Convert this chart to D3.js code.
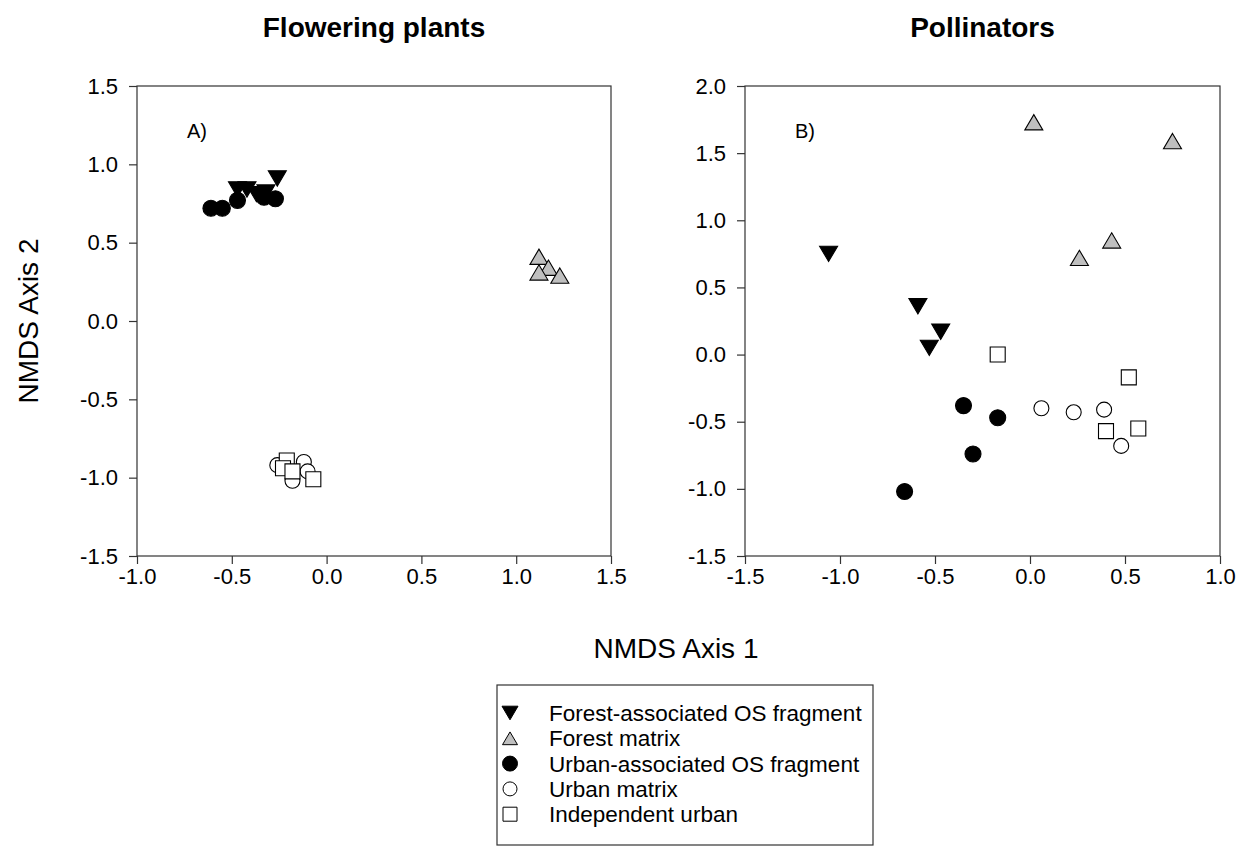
<!DOCTYPE html>
<html>
<head>
<meta charset="utf-8">
<script src="https://cdn.jsdelivr.net/npm/d3@7"></script>
<style>
  html, body { margin: 0; padding: 0; background: #fff; }
  svg { display: block; font-family: "Liberation Sans", Arial, sans-serif; }
</style>
</head>
<body>
<svg id="chart" width="1249" height="847"></svg>
<script>
// Site groups, in legend order
const groupNames = [
  "Forest-associated OS fragment",
  "Forest matrix",
  "Urban-associated OS fragment",
  "Urban matrix",
  "Independent urban"
];

// NMDS scores for flowering plants, [axis1, axis2]
const plantsForestFragment = [[-0.47, 0.84], [-0.42, 0.84], [-0.37, 0.81], [-0.32, 0.82], [-0.26, 0.91]];
const plantsForestMatrix   = [[1.12, 0.41], [1.17, 0.34], [1.12, 0.31], [1.23, 0.29]];
const plantsUrbanFragment  = [[-0.61, 0.72], [-0.55, 0.72], [-0.47, 0.77], [-0.33, 0.79], [-0.27, 0.78]];
const plantsUrbanMatrix    = [[-0.26, -0.92], [-0.12, -0.90], [-0.10, -0.96], [-0.18, -1.02]];
const plantsIndependent    = [[-0.21, -0.89], [-0.23, -0.94], [-0.18, -0.96], [-0.07, -1.01]];

// NMDS scores for pollinators, [axis1, axis2]
const pollForestFragment = [[-1.06, 0.75], [-0.59, 0.36], [-0.47, 0.17], [-0.53, 0.05]];
const pollForestMatrix   = [[0.02, 1.73], [0.75, 1.59], [0.43, 0.85], [0.26, 0.72]];
const pollUrbanFragment  = [[-0.66, -1.02], [-0.35, -0.38], [-0.17, -0.47], [-0.30, -0.74]];
const pollUrbanMatrix    = [[0.06, -0.40], [0.23, -0.43], [0.39, -0.41], [0.48, -0.68]];
const pollIndependent    = [[-0.17, 0.00], [0.52, -0.17], [0.40, -0.57], [0.57, -0.55]];

// Axis tick values
const plantsXTicks = [-1.0, -0.5, 0.0, 0.5, 1.0, 1.5];
const plantsYTicks = [-1.5, -1.0, -0.5, 0.0, 0.5, 1.0, 1.5];
const pollXTicks   = [-1.5, -1.0, -0.5, 0.0, 0.5, 1.0];
const pollYTicks   = [-1.5, -1.0, -0.5, 0.0, 0.5, 1.0, 1.5, 2.0];

const svg = d3.select("#chart");
const fmt = v => v.toFixed(1);

// Triangle whose bounding box is centred on the point; size = width
function triangle(up, ratio) {
  return {
    draw(ctx, size) {
      const w = size / 2, h = size * ratio / 2;
      if (up) {
        ctx.moveTo(0, -h); ctx.lineTo(w, h); ctx.lineTo(-w, h);
      } else {
        ctx.moveTo(-w, -h); ctx.lineTo(w, -h); ctx.lineTo(0, h);
      }
      ctx.closePath();
    }
  };
}
function circle() {
  return { draw(ctx, size) { const r = size / 2; ctx.moveTo(r, 0); ctx.arc(0, 0, r, 0, 2 * Math.PI); } };
}
function square() {
  return { draw(ctx, size) { const r = size / 2; ctx.rect(-r, -r, size, size); } };
}

// Marker style per group
const styles = [
  { type: triangle(false, 0.85), fill: "#000", stroke: "#000", size: 18 },
  { type: triangle(true, 0.85),  fill: "#bfbfbf", stroke: "#000", size: 18 },
  { type: circle(),              fill: "#000", stroke: "#000", size: 16 },
  { type: circle(),              fill: "#fff", stroke: "#000", size: 15 },
  { type: square(),              fill: "#fff", stroke: "#000", size: 15 }
];

function panel(opts) {
  const { left, right, top, bottom, xDomain, yDomain, xTicks, yTicks, series, tag, title } = opts;
  const x = d3.scaleLinear().domain(xDomain).range([left, right]);
  const y = d3.scaleLinear().domain(yDomain).range([bottom, top]);
  const g = svg.append("g");

  // frame
  g.append("rect")
    .attr("x", left).attr("y", top)
    .attr("width", right - left).attr("height", bottom - top)
    .attr("fill", "none").attr("stroke", "#333").attr("stroke-width", 1.2);

  const xAxis = g.append("g").attr("transform", `translate(0,${bottom})`)
    .call(d3.axisBottom(x).tickValues(xTicks).tickFormat(fmt).tickSize(8).tickPadding(4));
  const yAxis = g.append("g").attr("transform", `translate(${left},0)`)
    .call(d3.axisLeft(y).tickValues(yTicks).tickFormat(fmt).tickSize(8).tickPadding(11));
  [xAxis, yAxis].forEach(a => {
    a.select(".domain").remove();
    a.selectAll("line").attr("stroke", "#333").attr("stroke-width", 1.2);
    a.selectAll("text").attr("font-size", 22).attr("fill", "#000")
      .attr("font-family", "Liberation Sans, Arial, sans-serif");
  });

  g.append("text").attr("x", left + 50).attr("y", top + 52)
    .attr("font-size", 20).text(tag);

  g.append("text").attr("x", (left + right) / 2).attr("y", 37)
    .attr("text-anchor", "middle").attr("font-size", 28).attr("font-weight", "bold")
    .text(title);

  series.forEach((pts, i) => {
    const s = styles[i];
    g.append("g").selectAll("path").data(pts).join("path")
      .attr("transform", d => `translate(${x(d[0])},${y(d[1])})`)
      .attr("d", d3.symbol().type(s.type).size(s.size))
      .attr("fill", s.fill).attr("stroke", s.stroke).attr("stroke-width", 1.1);
  });
}

panel({
  left: 137, right: 611, top: 86, bottom: 556,
  xDomain: [-1.0, 1.5], yDomain: [-1.5, 1.5],
  xTicks: plantsXTicks, yTicks: plantsYTicks,
  series: [plantsForestFragment, plantsForestMatrix, plantsUrbanFragment, plantsUrbanMatrix, plantsIndependent],
  tag: "A)", title: "Flowering plants"
});

panel({
  left: 745, right: 1220, top: 86, bottom: 556,
  xDomain: [-1.5, 1.0], yDomain: [-1.5, 2.0],
  xTicks: pollXTicks, yTicks: pollYTicks,
  series: [pollForestFragment, pollForestMatrix, pollUrbanFragment, pollUrbanMatrix, pollIndependent],
  tag: "B)", title: "Pollinators"
});

// shared axis titles
svg.append("text").attr("x", 676).attr("y", 658)
  .attr("text-anchor", "middle").attr("font-size", 28).text("NMDS Axis 1");
svg.append("text").attr("transform", "translate(38,321) rotate(-90)")
  .attr("text-anchor", "middle").attr("font-size", 28).text("NMDS Axis 2");

// legend
const legend = svg.append("g");
legend.append("rect").attr("x", 497).attr("y", 685).attr("width", 376).attr("height", 160)
  .attr("fill", "#fff").attr("stroke", "#333").attr("stroke-width", 1.2);
const legendSizes = [16, 15, 15, 14, 14];
const rows = legend.selectAll("g.row").data(groupNames).join("g")
  .attr("class", "row")
  .attr("transform", (d, i) => `translate(0,${713 + i * 25.3})`);
rows.append("path")
  .attr("transform", "translate(510,0)")
  .attr("d", (d, i) => d3.symbol().type(styles[i].type).size(legendSizes[i])())
  .attr("fill", (d, i) => styles[i].fill).attr("stroke", "#000").attr("stroke-width", 1);
rows.append("text").attr("x", 549).attr("y", 8)
  .attr("font-size", 22.5).text(d => d);
</script>
</body>
</html>
